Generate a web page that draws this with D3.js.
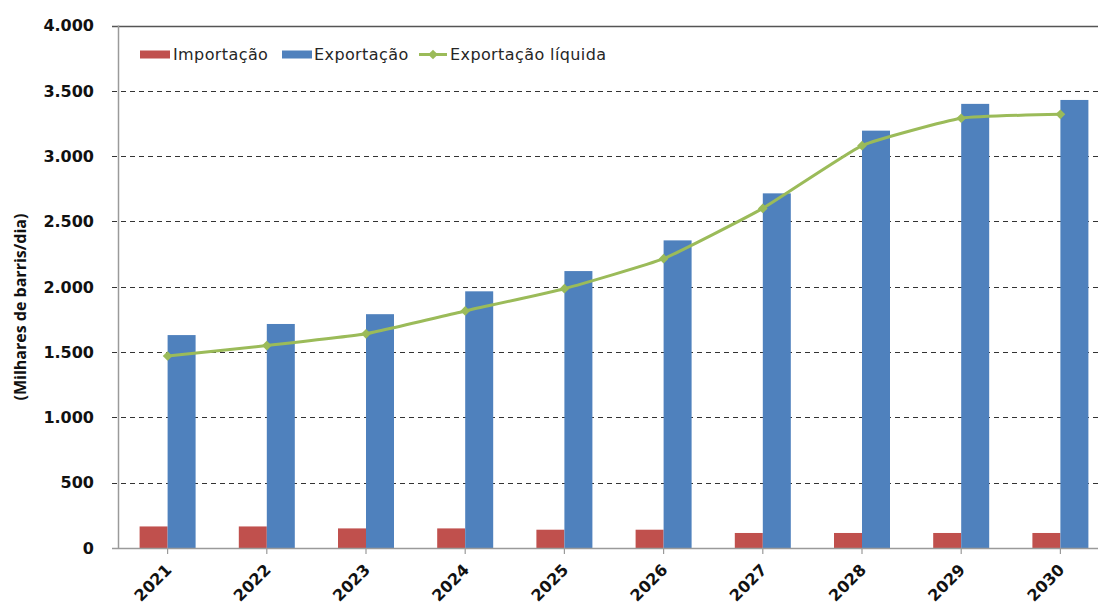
<!DOCTYPE html>
<html>
<head>
<meta charset="utf-8">
<script src="https://cdn.jsdelivr.net/npm/d3@7"></script>
<style>
	body { margin: 0; background: #ffffff; }
	svg { display: block; }
</style>
</head>
<body>
<div id="chart"></div>
<script>

///////////////////////////////////////////////////////////////////////////
///////////////////////////////// Data ////////////////////////////////////
///////////////////////////////////////////////////////////////////////////

var years = ["2021", "2022", "2023", "2024", "2025", "2026", "2027", "2028", "2029", "2030"];
var importacao = [165, 165, 150, 150, 140, 140, 115, 115, 115, 115];
var exportacao = [1630, 1715, 1790, 1965, 2120, 2355, 2715, 3195, 3400, 3430];
var exportacaoLiquida = [1470, 1550, 1640, 1815, 1985, 2215, 2600, 3080, 3290, 3320];
var yTicks = [0, 500, 1000, 1500, 2000, 2500, 3000, 3500, 4000];

var colImport = "#C0504D",
	colExport = "#4F81BD",
	colLiquida = "#9BBB59";

///////////////////////////////////////////////////////////////////////////
//////////////////////////// Set up the SVG ///////////////////////////////
///////////////////////////////////////////////////////////////////////////

var width = 1098,
	height = 604,
	margin = {left: 118, top: 25.5, bottom: 56},
	plotWidth = 992,
	plotHeight = height - margin.top - margin.bottom;

var svg = d3.select("#chart").append("svg")
	.attr("width", width)
	.attr("height", height);

var x = d3.scaleBand()
	.domain(years)
	.range([margin.left, margin.left + plotWidth])
	.paddingInner(0)
	.paddingOuter(0);

var y = d3.scaleLinear()
	.domain([0, 4000])
	.range([margin.top + plotHeight, margin.top]);

var barWidth = 28;
var fmt = function(d) { return d3.format(",")(d).replace(/,/g, "."); };

///////////////////////////////////////////////////////////////////////////
///////////////////////////// Grid and axes ///////////////////////////////
///////////////////////////////////////////////////////////////////////////

//Dashed gridlines (with the small outward tick)
svg.append("g").attr("class", "grid")
	.selectAll("line")
	.data(yTicks.filter(function(d) { return d > 0 && d < 4000; }))
	.enter().append("line")
		.attr("x1", margin.left - 6)
		.attr("x2", width)
		.attr("y1", function(d) { return Math.round(y(d)) + 0.5; })
		.attr("y2", function(d) { return Math.round(y(d)) + 0.5; })
		.style("stroke", "#333333")
		.style("stroke-width", 1.2)
		.style("stroke-dasharray", "5,4");

//Top border of the plot
svg.append("line")
	.attr("x1", margin.left - 6)
	.attr("x2", width)
	.attr("y1", Math.round(y(4000)) + 0.5)
	.attr("y2", Math.round(y(4000)) + 0.5)
	.style("stroke", "#555555")
	.style("stroke-width", 1.5);

//Y tick labels
svg.append("g").attr("class", "yLabels")
	.selectAll("text")
	.data(yTicks)
	.enter().append("text")
		.attr("x", 94)
		.attr("y", function(d) { return y(d); })
		.attr("dy", "0.36em")
		.style("text-anchor", "end")
		.style("font-family", "'DejaVu Sans', sans-serif")
		.style("font-weight", "bold")
		.style("font-size", "16px")
		.attr("fill", "#111111")
		.text(fmt);

//Y axis title
svg.append("text")
	.attr("transform", "translate(26," + 307 + ") rotate(-90)")
	.style("text-anchor", "middle")
	.style("font-family", "'Open Sans', sans-serif")
	.style("font-weight", "bold")
	.style("font-size", "16px")
	.attr("fill", "#111111")
	.text("(Milhares de barris/dia)");

///////////////////////////////////////////////////////////////////////////
///////////////////////////////// Bars ////////////////////////////////////
///////////////////////////////////////////////////////////////////////////

var barWrapper = svg.append("g").attr("class", "barWrapper");

barWrapper.selectAll(".barImport")
	.data(years)
	.enter().append("rect")
		.attr("class", "barImport")
		.attr("x", function(d) { return x(d) + x.bandwidth()/2 - barWidth; })
		.attr("y", function(d, i) { return y(importacao[i]); })
		.attr("width", barWidth)
		.attr("height", function(d, i) { return y(0) - y(importacao[i]); })
		.style("fill", colImport);

barWrapper.selectAll(".barExport")
	.data(years)
	.enter().append("rect")
		.attr("class", "barExport")
		.attr("x", function(d) { return x(d) + x.bandwidth()/2; })
		.attr("y", function(d, i) { return y(exportacao[i]); })
		.attr("width", barWidth)
		.attr("height", function(d, i) { return y(0) - y(exportacao[i]); })
		.style("fill", colExport);

//Left axis line
svg.append("line")
	.attr("x1", margin.left + 0.5)
	.attr("x2", margin.left + 0.5)
	.attr("y1", y(4000))
	.attr("y2", y(0))
	.style("stroke", "#9a9a9a")
	.style("stroke-width", 1.5);

//Zero line and category ticks
svg.append("line")
	.attr("x1", margin.left - 6)
	.attr("x2", width)
	.attr("y1", Math.round(y(0)) + 0.5)
	.attr("y2", Math.round(y(0)) + 0.5)
	.style("stroke", "#9a9a9a")
	.style("stroke-width", 1.5);

svg.append("g").attr("class", "xTicks")
	.selectAll("line")
	.data(years)
	.enter().append("line")
		.attr("x1", function(d) { return x(d) + x.bandwidth()/2; })
		.attr("x2", function(d) { return x(d) + x.bandwidth()/2; })
		.attr("y1", y(0))
		.attr("y2", y(0) + 6)
		.style("stroke", "#9a9a9a")
		.style("stroke-width", 1.2);

//Year labels
svg.append("g").attr("class", "xLabels")
	.selectAll("text")
	.data(years)
	.enter().append("text")
		.attr("transform", function(d) {
			return "translate(" + (x(d) + x.bandwidth()/2 + 5) + "," + 571 + ") rotate(-45)";
		})
		.style("text-anchor", "end")
		.style("font-family", "'DejaVu Sans', sans-serif")
		.style("font-weight", "bold")
		.style("font-size", "16px")
		.attr("fill", "#111111")
		.text(function(d) { return d; });

///////////////////////////////////////////////////////////////////////////
///////////////////////////////// Line ////////////////////////////////////
///////////////////////////////////////////////////////////////////////////

var line = d3.line()
	.x(function(d, i) { return x(years[i]) + x.bandwidth()/2; })
	.y(function(d) { return y(d); })
	.curve(d3.curveCardinal.tension(0.6));

svg.append("path")
	.datum(exportacaoLiquida)
	.attr("d", line)
	.style("fill", "none")
	.style("stroke", colLiquida)
	.style("stroke-width", 3);

var diamond = d3.symbol().type(d3.symbolDiamond2).size(60);

svg.append("g").attr("class", "markers")
	.selectAll("path")
	.data(exportacaoLiquida)
	.enter().append("path")
		.attr("transform", function(d, i) {
			return "translate(" + (x(years[i]) + x.bandwidth()/2) + "," + y(d) + ")";
		})
		.attr("d", diamond)
		.style("fill", colLiquida);

///////////////////////////////////////////////////////////////////////////
//////////////////////////////// Legend ///////////////////////////////////
///////////////////////////////////////////////////////////////////////////

var legend = svg.append("g").attr("class", "legend");
var legendText = function(xPos, label) {
	legend.append("text")
		.attr("x", xPos)
		.attr("y", 60)
		.style("font-family", "'DejaVu Sans', sans-serif")
		.style("font-size", "16px")
		.style("letter-spacing", "0.4px")
		.attr("fill", "#262626")
		.text(label);
};

legend.append("rect")
	.attr("x", 140).attr("y", 50.5)
	.attr("width", 30).attr("height", 8)
	.style("fill", colImport);
legendText(173, "Importação");

legend.append("rect")
	.attr("x", 282).attr("y", 50.5)
	.attr("width", 30).attr("height", 8)
	.style("fill", colExport);
legendText(314, "Exportação");

legend.append("line")
	.attr("x1", 419).attr("x2", 447)
	.attr("y1", 54.5).attr("y2", 54.5)
	.style("stroke", colLiquida)
	.style("stroke-width", 3);
legend.append("path")
	.attr("transform", "translate(433,54.5)")
	.attr("d", diamond)
	.style("fill", colLiquida);
legendText(450, "Exportação líquida");

</script>
</body>
</html>
